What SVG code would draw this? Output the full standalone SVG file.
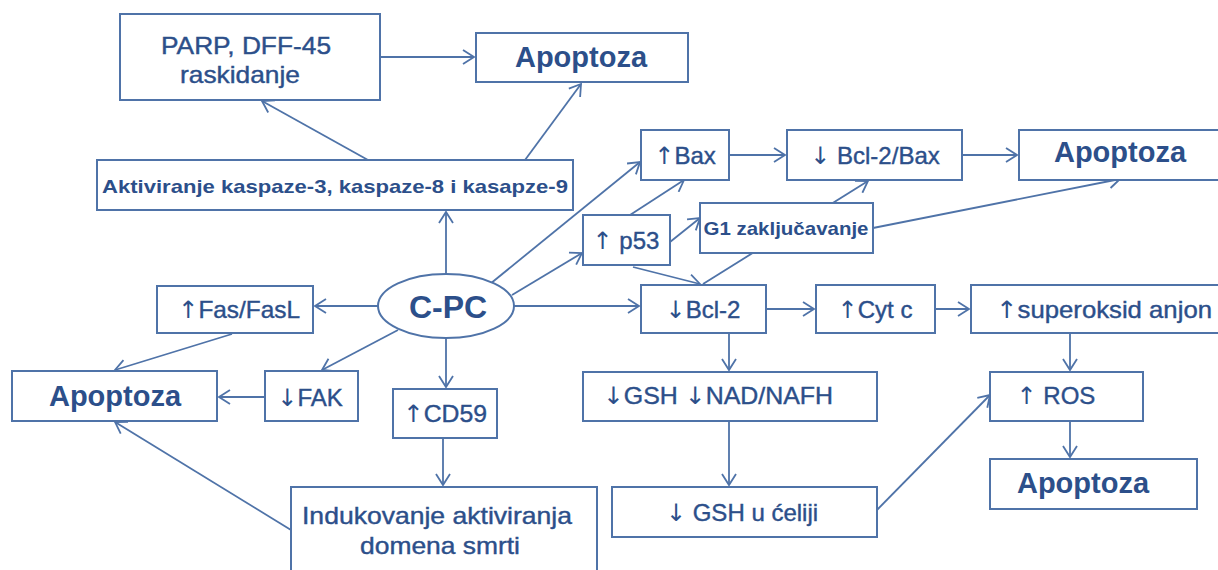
<svg xmlns="http://www.w3.org/2000/svg" width="1218" height="570" viewBox="0 0 1218 570">
<defs>
<marker id="ah" markerUnits="userSpaceOnUse" markerWidth="14" markerHeight="16" refX="12" refY="8" orient="auto">
<path d="M1,1 L12,8 L1,15" fill="none" stroke="#4f73a8" stroke-width="1.8"/>
</marker>
<style>
.b{fill:#fff;stroke:#4f73a8;stroke-width:2}
.t{font-family:"Liberation Sans",Arial,sans-serif;fill:#2c4f8a;stroke:#2c4f8a;stroke-width:0.4;text-anchor:middle;font-size:24px}
.s{font-weight:bold;stroke-width:0;font-size:19px}
.a{font-weight:bold;stroke-width:0;font-size:29px}
.r{font-family:"DejaVu Sans",sans-serif;stroke-width:0}
.c line{stroke:#4f73a8;stroke-width:1.8;fill:none;marker-end:url(#ah)}
</style>
</defs>
<rect width="1218" height="570" fill="#fff"/>
<g class="c" id="connectors">
<line x1="380" y1="57" x2="474" y2="57"/>
<line x1="368" y1="160" x2="262" y2="101"/>
<line x1="525" y1="160" x2="581" y2="84"/>
<line x1="446" y1="274" x2="446" y2="212"/>
<line x1="378" y1="306" x2="315" y2="306"/>
<line x1="232" y1="334" x2="115" y2="370"/>
<line x1="265" y1="397" x2="219" y2="397"/>
<line x1="398" y1="330" x2="322" y2="370"/>
<line x1="446" y1="338" x2="446" y2="387"/>
<line x1="443" y1="438" x2="443" y2="485"/>
<line x1="291" y1="530" x2="115" y2="422"/>
<line x1="490" y1="284" x2="640" y2="162"/>
<line x1="630" y1="215" x2="684" y2="180"/>
<line x1="512" y1="295" x2="582" y2="253"/>
<line x1="670" y1="242" x2="700" y2="218"/>
<line x1="873" y1="228" x2="1120" y2="179"/>
<line x1="633" y1="267" x2="700" y2="284"/>
<line x1="703" y1="284" x2="868" y2="181"/>
<line x1="514" y1="306" x2="639" y2="306"/>
<line x1="729" y1="155" x2="785" y2="155"/>
<line x1="962" y1="155" x2="1017" y2="155"/>
<line x1="766" y1="309" x2="814" y2="309"/>
<line x1="935" y1="309" x2="969" y2="309"/>
<line x1="729" y1="333" x2="729" y2="370"/>
<line x1="729" y1="421" x2="729" y2="485"/>
<line x1="877" y1="510" x2="990" y2="395"/>
<line x1="1070" y1="333" x2="1070" y2="370"/>
<line x1="1070" y1="421" x2="1070" y2="457"/>
</g>
<g id="parp"><rect class="b" x="120" y="14" width="260" height="86"/><text class="t" x="246" y="54" textLength="170" lengthAdjust="spacingAndGlyphs">PARP, DFF-45</text><text class="t" x="240" y="83" textLength="120" lengthAdjust="spacingAndGlyphs">raskidanje</text></g>
<g id="apoptoza1"><rect class="b" x="476" y="33" width="212" height="49"/><text class="t a" x="581" y="67">Apoptoza</text></g>
<g id="aktiviranje"><rect class="b" x="97" y="160" width="476" height="50"/><text class="t s" x="335" y="193" textLength="466" lengthAdjust="spacingAndGlyphs">Aktiviranje kaspaze-3, kaspaze-8 i kasapze-9</text></g>
<g id="cpc"><ellipse cx="446" cy="306" rx="68" ry="32" fill="#fff" stroke="#4f73a8" stroke-width="2"/><text class="t" x="448" y="318" style="font-weight:bold;font-size:32px;stroke-width:0">C-PC</text></g>
<g id="fas"><rect class="b" x="157" y="286" width="156" height="47"/><text class="t" x="239" y="318" textLength="122" lengthAdjust="spacingAndGlyphs"><tspan class="r">↑</tspan>Fas/FasL</text></g>
<g id="apoptoza2"><rect class="b" x="12" y="371" width="205" height="50"/><text class="t a" x="115" y="406">Apoptoza</text></g>
<g id="fak"><rect class="b" x="265" y="371" width="93" height="50"/><text class="t" x="310" y="406"><tspan class="r">↓</tspan>FAK</text></g>
<g id="cd59"><rect class="b" x="393" y="389" width="104" height="49"/><text class="t" x="445" y="422" textLength="84" lengthAdjust="spacingAndGlyphs"><tspan class="r">↑</tspan>CD59</text></g>
<g id="indukovanje"><rect class="b" x="291" y="487" width="306" height="90"/><text class="t" x="437" y="524" textLength="270" lengthAdjust="spacingAndGlyphs">Indukovanje aktiviranja</text><text class="t" x="440" y="554" textLength="160" lengthAdjust="spacingAndGlyphs">domena smrti</text></g>
<g id="bax"><rect class="b" x="641" y="130" width="88" height="50"/><text class="t" x="685" y="164"><tspan class="r">↑</tspan>Bax</text></g>
<g id="bcl2bax"><rect class="b" x="787" y="130" width="175" height="50"/><text class="t" x="875" y="164"><tspan class="r">↓</tspan> Bcl-2/Bax</text></g>
<g id="apoptoza3"><rect class="b" x="1019" y="130" width="210" height="50"/><text class="t a" x="1120" y="162">Apoptoza</text></g>
<g id="p53"><rect class="b" x="583" y="215" width="87" height="50"/><text class="t" x="626" y="249"><tspan class="r">↑</tspan> p53</text></g>
<g id="g1"><rect class="b" x="700" y="203" width="173" height="50"/><text class="t s" x="786" y="235" textLength="165" lengthAdjust="spacingAndGlyphs">G1 zaključavanje</text></g>
<g id="bcl2"><rect class="b" x="641" y="285" width="125" height="48"/><text class="t" x="703" y="318"><tspan class="r">↓</tspan>Bcl-2</text></g>
<g id="cytc"><rect class="b" x="816" y="285" width="119" height="48"/><text class="t" x="875" y="318"><tspan class="r">↑</tspan>Cyt c</text></g>
<g id="superoksid"><rect class="b" x="971" y="285" width="257" height="48"/><text class="t" x="1104" y="318" textLength="216" lengthAdjust="spacingAndGlyphs"><tspan class="r">↑</tspan>superoksid anjon</text></g>
<g id="gshnad"><rect class="b" x="583" y="372" width="294" height="49"/><text class="t" x="718" y="404" textLength="230" lengthAdjust="spacingAndGlyphs"><tspan class="r">↓</tspan>GSH <tspan class="r">↓</tspan>NAD/NAFH</text></g>
<g id="gshcelija"><rect class="b" x="612" y="487" width="265" height="50"/><text class="t" x="742" y="521"><tspan class="r">↓</tspan>  GSH u ćeliji</text></g>
<g id="ros"><rect class="b" x="990" y="372" width="153" height="49"/><text class="t" x="1056" y="404"><tspan class="r">↑</tspan> ROS</text></g>
<g id="apoptoza4"><rect class="b" x="990" y="459" width="207" height="50"/><text class="t a" x="1083" y="493">Apoptoza</text></g>
</svg>
